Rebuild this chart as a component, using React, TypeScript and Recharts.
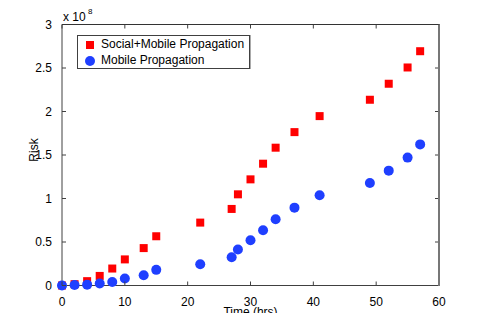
import React from "react";
import { ScatterChart, Scatter, XAxis, YAxis, Legend } from "recharts";

// hours since start
const times = [0, 2, 4, 6, 8, 10, 13, 15, 22, 27, 28, 30, 32, 34, 37, 41, 49, 52, 55, 57];
// risk, in units of 1e8
const socialMobile = [
  0, 0.015, 0.05, 0.11, 0.195, 0.3, 0.43, 0.566, 0.723, 0.88, 1.048, 1.22, 1.4,
  1.584, 1.763, 1.947, 2.135, 2.319, 2.506, 2.693,
];
const mobileOnly = [
  0, 0.005, 0.01, 0.023, 0.04, 0.08, 0.118, 0.18, 0.245, 0.325, 0.413, 0.52,
  0.635, 0.761, 0.895, 1.037, 1.178, 1.32, 1.47, 1.622,
];
const xTicks = [0, 10, 20, 30, 40, 50, 60];
const yTicks = [0, 0.5, 1, 1.5, 2, 2.5, 3];

const RED = "#ff0000";
const BLUE = "#1f3fff";
const AXIS = "#404040";
const FONT = "'Liberation Sans', Arial, sans-serif";

const WIDTH = 485;
const HEIGHT = 321;
const MARGIN = { top: 24.5, right: 46, bottom: 5.5, left: 12 };
const Y_AXIS_W = 50;
const X_AXIS_H = 30;
const PLOT_TOP = MARGIN.top;
const PLOT_RIGHT = WIDTH - MARGIN.right;
const PLOT_LEFT = MARGIN.left + Y_AXIS_W;
const PLOT_BOTTOM = HEIGHT - MARGIN.bottom - X_AXIS_H;

const socialData = times.map((t, i) => ({ t, risk: socialMobile[i] }));
const mobileData = times.map((t, i) => ({ t, risk: mobileOnly[i] }));

const Square = (props: any) => (
  <rect x={props.cx - 4} y={props.cy - 4} width={8} height={8} fill={RED} />
);
const Dot = (props: any) => <circle cx={props.cx} cy={props.cy} r={5} fill={BLUE} />;

// bottom tick label with inward ticks at the bottom and top edges
const XTick = (props: any) => (
  <g>
    <line x1={props.x} x2={props.x} y1={PLOT_TOP} y2={PLOT_TOP + 4} stroke={AXIS} />
    <line x1={props.x} x2={props.x} y1={PLOT_BOTTOM - 4} y2={PLOT_BOTTOM} stroke={AXIS} />
    <text x={props.x} y={props.y} dy="0.71em" textAnchor="middle" fontSize={12} fill="#000">
      {props.payload.value}
    </text>
  </g>
);

// left tick label with inward ticks at the left and right edges
const YTick = (props: any) => (
  <g>
    <line x1={PLOT_RIGHT - 4} x2={PLOT_RIGHT} y1={props.y} y2={props.y} stroke={AXIS} />
    <line x1={PLOT_LEFT} x2={PLOT_LEFT + 4} y1={props.y} y2={props.y} stroke={AXIS} />
    <text
      x={props.x}
      y={props.y}
      textAnchor="end"
      dominantBaseline="central"
      fontSize={12}
      fill="#000"
    >
      {String(props.payload.value)}
    </text>
  </g>
);

const renderLegend = () => (
  <div
    style={{
      width: 171,
      height: 32,
      border: `1px solid ${AXIS}`,
      boxShadow: "1px 0 0 #aaa",
      background: "#fff",
      fontFamily: FONT,
      fontSize: 12,
      position: "relative",
      color: "#000",
    }}
  >
    <div style={{ position: "absolute", left: 8, top: 5, width: 8, height: 8, background: RED }} />
    <div style={{ position: "absolute", left: 23, top: 1, lineHeight: "14px" }}>
      Social+Mobile Propagation
    </div>
    <div
      style={{
        position: "absolute",
        left: 7,
        top: 20,
        width: 10,
        height: 10,
        borderRadius: 5,
        background: BLUE,
      }}
    />
    <div style={{ position: "absolute", left: 23, top: 17, lineHeight: "14px" }}>
      Mobile Propagation
    </div>
  </div>
);

// "Risk" and the x 10^8 exponent
const renderYLabel = (props: any) => {
  const vb = props.viewBox || { x: 12, y: 24.5, width: 50, height: 261 };
  const left = vb.x + vb.width;
  const top = vb.y;
  const cy = top + vb.height / 2 - 5;
  return (
    <g fontFamily={FONT} fill="#000">
      <text
        x={34}
        y={cy}
        fontSize={12}
        textAnchor="middle"
        dominantBaseline="central"
        transform={`rotate(-90 34 ${cy})`}
      >
        Risk
      </text>
      <text x={left + 1} y={top - 3.5} fontSize={12}>
        x 10
      </text>
      <text x={left + 26} y={top - 10.5} fontSize={8}>
        8
      </text>
    </g>
  );
};

export default function App() {
  return (
    <div
      style={{
        position: "relative",
        width: WIDTH,
        height: HEIGHT,
        margin: -8,
        background: "#fff",
      }}
    >
      <ScatterChart width={WIDTH} height={HEIGHT} margin={MARGIN} style={{ fontFamily: FONT }}>
        <XAxis
          dataKey="t"
          type="number"
          domain={[0, 60]}
          ticks={xTicks}
          height={X_AXIS_H}
          stroke={AXIS}
          tickLine={false}
          tickMargin={5.5}
          tick={XTick}
          label={{
            value: "Time (hrs)",
            position: "insideBottom",
            offset: 0,
            fill: "#000",
            fontSize: 12,
          }}
        />
        <YAxis
          dataKey="risk"
          type="number"
          domain={[0, 3]}
          ticks={yTicks}
          width={Y_AXIS_W}
          stroke={AXIS}
          tickLine={false}
          tickMargin={4}
          tick={YTick}
          label={{ content: renderYLabel }}
        />
        <Legend
          content={renderLegend}
          layout="vertical"
          align="center"
          verticalAlign="middle"
          wrapperStyle={{ position: "absolute", left: 77, top: 35, width: "auto" }}
        />
        <Scatter
          name="Social+Mobile Propagation"
          data={socialData}
          shape={Square}
          isAnimationActive={false}
        />
        <Scatter
          name="Mobile Propagation"
          data={mobileData}
          shape={Dot}
          isAnimationActive={false}
        />
      </ScatterChart>
      {/* top and right edges of the axes box */}
      <div
        style={{
          position: "absolute",
          zIndex: 10,
          left: PLOT_LEFT,
          top: Math.floor(PLOT_TOP),
          width: PLOT_RIGHT - PLOT_LEFT + 1,
          height: PLOT_BOTTOM - PLOT_TOP + 1,
          boxSizing: "border-box",
          borderTop: "1px solid #333",
          borderRight: "2px solid #777",
          pointerEvents: "none",
        }}
      />
    </div>
  );
}
